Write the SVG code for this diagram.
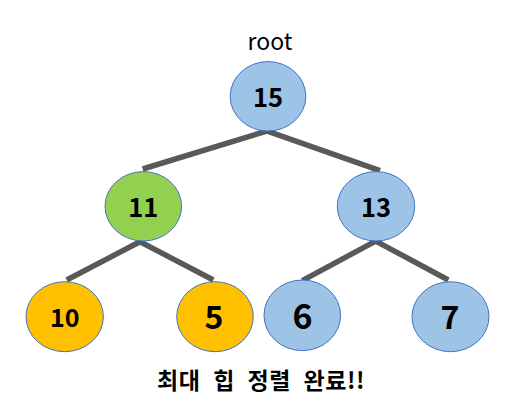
<svg xmlns="http://www.w3.org/2000/svg" width="518" height="413" viewBox="0 0 518 413">
<style>
.n ellipse{stroke:#4472C4;stroke-width:1}
.blue{fill:#9DC3E6}.green{fill:#92D050}.orange{fill:#FFC000}
text{font-family:"Noto Sans CJK KR","Liberation Sans",sans-serif;text-anchor:middle;fill:#000}
.num{font-weight:bold}
.e{fill:none;stroke:#595959;stroke-width:5.5;stroke-linejoin:miter;stroke-linecap:butt}
</style>
<rect width="518" height="413" fill="#fff"/>
<text x="270" y="50" font-size="23">root</text>
<g id="connectors">
<polyline class="e" points="142.7,169 266.7,131 380,170.7"/>
<polyline class="e" points="66.7,280 140,241.7 213.3,280"/>
<polyline class="e" points="302.3,280.7 375.7,241 448.3,280"/>
</g>
<g id="n15" class="n"><ellipse class="blue" cx="268" cy="96.3" rx="37.8" ry="34.7"/><text class="num" x="268" y="106.5" font-size="25.5">15</text></g>
<g id="n11" class="n"><ellipse class="green" cx="143.3" cy="206.3" rx="38.3" ry="34.7"/><text class="num" x="143.3" y="216.5" font-size="25.5">11</text></g>
<g id="n13" class="n"><ellipse class="blue" cx="376" cy="206.3" rx="38.7" ry="34.7"/><text class="num" x="376" y="216.5" font-size="25.5">13</text></g>
<g id="n10" class="n"><ellipse class="orange" cx="64.7" cy="316.7" rx="38.7" ry="35"/><text class="num" x="64.7" y="327" font-size="25">10</text></g>
<g id="n5" class="n"><ellipse class="orange" cx="215" cy="316.7" rx="38.3" ry="35"/><text class="num" x="214" y="328.5" font-size="32">5</text></g>
<g id="n6" class="n"><ellipse class="blue" cx="302.3" cy="315.3" rx="38.3" ry="35.3"/><text class="num" x="302.5" y="328.5" font-size="34">6</text></g>
<g id="n7" class="n"><ellipse class="blue" cx="450.5" cy="316.7" rx="38.5" ry="35"/><text class="num" x="450" y="328.5" font-size="32">7</text></g>
<text class="num" x="261" y="389" font-size="23" word-spacing="7" letter-spacing="0.5">최대 힙 정렬 완료!!</text>
</svg>
